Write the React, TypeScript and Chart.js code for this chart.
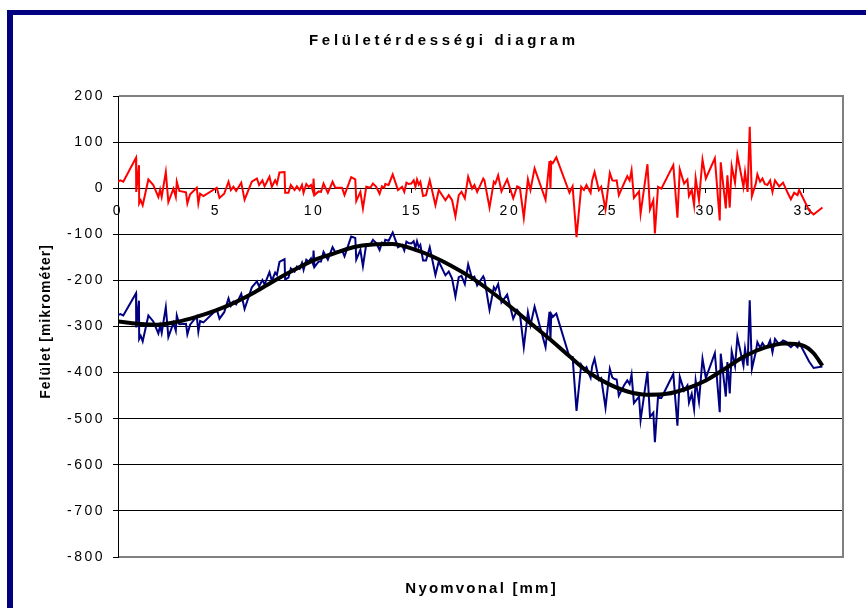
import React, { useEffect, useRef } from 'react';
import { Chart, registerables } from 'chart.js';

Chart.register(...registerables);

const CHART_TITLE = 'Felületérdességi diagram';
const X_AXIS_TITLE = 'Nyomvonal [mm]';
const Y_AXIS_TITLE = 'Felület [mikrométer]';

const X_TICKS = [0, 5, 10, 15, 20, 25, 30, 35];
const Y_TICKS = [200, 100, 0, -100, -200, -300, -400, -500, -600, -700, -800];

// measurement positions along the trace (mm)
const POSITIONS = [
  0.0, 0.12, 0.27, 0.92, 0.93, 1.07, 1.08, 1.16, 1.26, 1.55, 1.8, 2.06, 2.15, 2.23, 2.44, 2.57, 2.83, 2.95, 3.0, 3.13,
  3.47, 3.54, 3.68, 4.02, 4.1, 4.19, 4.36, 5.04, 5.18, 5.42, 5.64, 5.76, 5.89, 6.03, 6.29, 6.46, 6.83, 7.09, 7.2, 7.37,
  7.48, 7.6, 7.73, 7.85, 8.02, 8.11, 8.24, 8.5, 8.53, 8.7, 8.82, 9.01, 9.13, 9.27, 9.39, 9.47, 9.61, 9.73, 9.85, 9.95,
  9.98, 10.03, 10.24, 10.36, 10.49, 10.71, 10.95, 11.09, 11.43, 11.56, 11.9, 12.11, 12.16, 12.37, 12.5, 12.67, 12.88, 13.01, 13.18, 13.35,
  13.47, 13.59, 13.64, 13.81, 14.02, 14.29, 14.5, 14.61, 14.72, 14.83, 14.97, 15.09, 15.18, 15.26, 15.35, 15.43, 15.57, 15.72, 15.91, 16.2,
  16.37, 16.71, 16.88, 17.05, 17.22, 17.39, 17.53, 17.7, 17.87, 18.07, 18.19, 18.33, 18.45, 18.64, 18.7, 18.96, 19.18, 19.26, 19.4, 19.57,
  19.86, 20.17, 20.37, 20.51, 20.71, 20.92, 21.05, 21.26, 21.82, 22.02, 22.07, 22.11, 22.19, 22.37, 23.04, 23.2, 23.4, 23.64, 23.78, 23.91,
  24.03, 24.12, 24.2, 24.32, 24.54, 24.66, 24.88, 25.1, 25.23, 25.34, 25.45, 25.56, 25.82, 25.99, 26.11, 26.21, 26.33, 26.59, 26.67, 27.02,
  27.15, 27.32, 27.4, 27.56, 27.73, 28.34, 28.55, 28.67, 28.89, 29.06, 29.14, 29.28, 29.4, 29.48, 29.65, 29.83, 30.0, 30.46, 30.71, 30.76,
  31.02, 31.1, 31.22, 31.32, 31.49, 31.61, 31.92, 32.0, 32.13, 32.24, 32.35, 32.55, 32.63, 32.77, 32.89, 33.01, 33.14, 33.28, 33.4, 33.53,
  33.74, 33.94, 34.1, 34.2, 34.34, 34.51, 34.68, 34.76, 35.27, 35.5, 35.95,
];

// roughness (deviation from trend), red
const ROUGHNESS = [
  14, 17, 14, 66, -8, 50, -33, -26, -37, 19, 7, -19, -3, -19, 35, -30, -1, -19, 14, -6,
  -9, -33, -13, 1, -33, -12, -17, 1, -21, -12, 14, -4, 3, -6, 12, -25, 14, 21, 7, 17,
  4, 14, 25, 3, 17, 9, 34, 35, -10, -10, 7, -4, 4, -4, 7, -10, 9, 3, 7, -7,
  21, -15, -7, -8, 10, -10, 14, 1, 1, -15, 24, 19, -28, -8, -44, 3, 1, 10, 3, -12,
  4, 1, 9, 7, 30, -4, 3, -8, 12, 9, 10, 17, 3, 19, 8, 14, -17, -15, 17, -37,
  -4, -26, -15, -26, -61, -15, -8, -22, 25, -1, 7, -8, 3, 21, 17, -42, 14, 10, 28, -7,
  19, -22, 4, 1, -64, 19, -4, 43, -25, 59, -1, 57, 54, 67, -10, 4, -106, 3, -4, 7,
  -3, -10, 17, 35, -4, 3, -46, 33, 17, 16, 17, -15, 10, 26, 17, 39, -21, -7, -55, 52,
  -46, -26, -98, 3, -1, 50, -64, 41, 10, 19, -17, -4, -37, 22, -26, 62, 21, 65, -70, 56,
  -44, 28, -42, 48, 12, 72, 3, 35, -8, 133, -17, 10, 30, 14, 21, 9, 7, 17, -8, 17,
  4, 12, -3, -12, -24, -10, -15, -4, -48, -57, -42,
];

// measured surface profile, navy
const PROFILE = [
  -275, -273, -276, -228, -302, -244, -327, -320, -332, -276, -289, -315, -298, -314, -258, -323, -292, -309, -276, -295,
  -294, -317, -296, -278, -311, -288, -291, -263, -283, -269, -239, -255, -246, -252, -229, -262, -215, -202, -213, -199,
  -209, -196, -182, -201, -183, -188, -160, -154, -198, -194, -174, -181, -170, -175, -162, -177, -155, -159, -152, -164,
  -135, -171, -159, -159, -138, -155, -128, -139, -134, -148, -105, -108, -155, -134, -169, -121, -122, -112, -119, -134,
  -118, -120, -112, -114, -96, -128, -123, -135, -116, -119, -120, -115, -130, -115, -128, -123, -157, -157, -128, -188,
  -159, -189, -181, -196, -235, -193, -190, -208, -165, -196, -192, -211, -203, -191, -197, -264, -215, -221, -208, -248,
  -231, -283, -264, -272, -345, -269, -297, -257, -345, -268, -329, -273, -279, -272, -366, -366, -483, -383, -394, -388,
  -402, -411, -386, -370, -416, -412, -476, -392, -411, -414, -415, -450, -428, -417, -425, -404, -466, -452, -503, -398,
  -496, -487, -551, -452, -455, -403, -515, -409, -439, -428, -465, -446, -479, -417, -463, -370, -412, -358, -486, -359,
  -452, -377, -445, -354, -386, -323, -385, -348, -385, -243, -392, -355, -334, -346, -336, -344, -344, -330, -356, -327,
  -339, -330, -333, -340, -345, -338, -345, -335, -376, -390, -387,
];

// polynomial trend line, black
const TREND_POSITIONS = [0, 1, 2, 3, 4, 5, 6, 7, 8, 9, 10, 11, 12, 13, 14, 15, 16, 17, 18, 19, 20, 21, 22, 23, 24, 25, 26, 27, 28, 29, 30, 31, 32, 33, 34, 35, 35.5, 35.95];
const TREND = [-289, -294, -296, -290, -279, -265, -247, -225, -200, -177, -156, -142, -128, -122, -121, -131, -147, -168, -193, -223, -256, -291, -326, -363, -399, -424, -441, -448, -446, -435, -417, -391, -364, -346, -337, -342, -358, -385];

const FONT = "'Liberation Sans', Arial, Helvetica, sans-serif";

const toPoints = (xs: number[], ys: number[]) => xs.map((x, i) => ({ x, y: ys[i] }));

export default function App() {
  const ref = useRef<HTMLCanvasElement>(null);

  useEffect(() => {
    const canvas = ref.current;
    if (!canvas) return;

    const decor = {
      id: 'decor',
      beforeDraw(chart: any) {
        const ctx = chart.ctx;
        ctx.save();
        ctx.fillStyle = '#ffffff';
        ctx.fillRect(0, 0, chart.width, chart.height);
        ctx.fillStyle = '#000080';
        ctx.fillRect(7, 10, chart.width - 7, 5);
        ctx.fillRect(7, 10, 6, chart.height - 10);
        ctx.restore();
        ctx.letterSpacing = '2.5px';
      },
      beforeDatasetsDraw(chart: any) {
        const { ctx, chartArea: a } = chart;
        ctx.save();
        ctx.fillStyle = '#808080';
        ctx.fillRect(a.left + 1, a.top - 1, a.right - a.left, 2);
        ctx.fillRect(a.right - 1, a.top - 1, 2, a.bottom - a.top + 2);
        ctx.fillRect(a.left + 1, a.bottom - 1, a.right - a.left, 2);
        ctx.restore();
      },
      afterDraw(chart: any) {
        const { ctx, chartArea: a } = chart;
        ctx.save();
        ctx.fillStyle = '#000000';
        ctx.textBaseline = 'alphabetic';
        ctx.textAlign = 'center';
        ctx.font = `bold 15px ${FONT}`;
        ctx.letterSpacing = '3.7px';
        ctx.fillText(CHART_TITLE, 442 + 1.85, 45);
        ctx.letterSpacing = '2.2px';
        ctx.fillText(X_AXIS_TITLE, (a.left + a.right) / 2 + 1.1, 593);
        ctx.font = `bold 14px ${FONT}`;
        ctx.letterSpacing = '1px';
        ctx.translate(50, 322);
        ctx.rotate(-Math.PI / 2);
        ctx.fillText(Y_AXIS_TITLE, 0.5, 0);
        ctx.restore();
        ctx.letterSpacing = '0px';
      },
    };

    const chart = new Chart(canvas, {
      type: 'scatter',
      data: {
        datasets: [
          {
            label: 'Trend',
            data: toPoints(TREND_POSITIONS, TREND),
            showLine: true,
            borderColor: '#000000',
            backgroundColor: '#000000',
            borderWidth: 4,
            pointRadius: 0,
            cubicInterpolationMode: 'monotone',
            order: 0,
          },
          {
            label: 'Profil',
            data: toPoints(POSITIONS, PROFILE),
            showLine: true,
            borderColor: '#000080',
            backgroundColor: '#000080',
            borderWidth: 2,
            pointRadius: 0,
            tension: 0,
            order: 1,
          },
          {
            label: 'Érdesség',
            data: toPoints(POSITIONS, ROUGHNESS),
            showLine: true,
            borderColor: '#ff0000',
            backgroundColor: '#ff0000',
            borderWidth: 2,
            pointRadius: 0,
            tension: 0,
            order: 2,
          },
        ],
      },
      options: {
        animation: false,
        responsive: false,
        devicePixelRatio: 1,
        events: [],
        layout: { padding: { left: 20, right: 23, top: 96, bottom: 51 } },
        plugins: {
          legend: { display: false },
          tooltip: { enabled: false },
          title: { display: false },
        },
        scales: {
          x: {
            type: 'linear',
            min: 0,
            max: 37,
            position: { y: 0 } as any,
            afterBuildTicks: (s: any) => {
              s.ticks = X_TICKS.map((v) => ({ value: v }));
            },
            grid: { drawOnChartArea: false, drawTicks: true, tickLength: 4, color: '#000000' },
            border: { display: true, color: '#000000', width: 1 },
            ticks: {
              color: '#000000',
              font: { family: FONT, size: 14 },
              padding: 11,
              maxRotation: 0,
              autoSkip: false,
              callback: (v: any) => String(v),
            },
          },
          y: {
            type: 'linear',
            min: -800,
            max: 200,
            position: 'left',
            afterBuildTicks: (s: any) => {
              s.ticks = Y_TICKS.map((v) => ({ value: v }));
            },
            afterFit: (s: any) => {
              s.width = 98;
            },
            grid: { color: '#000000', lineWidth: 1, drawTicks: true, tickLength: 5 },
            border: { display: true, color: '#000000', width: 1 },
            ticks: {
              color: '#000000',
              font: { family: FONT, size: 14 },
              padding: 8,
              autoSkip: false,
              callback: (v: any) => String(v),
            },
          },
        },
      },
      plugins: [decor],
    } as any);

    return () => chart.destroy();
  }, []);

  return (
    <div style={{ position: 'absolute', left: 0, top: 0, width: 866, height: 608, background: '#ffffff' }}>
      <canvas ref={ref} width={866} height={608} style={{ display: 'block', width: 866, height: 608 }} />
    </div>
  );
}
